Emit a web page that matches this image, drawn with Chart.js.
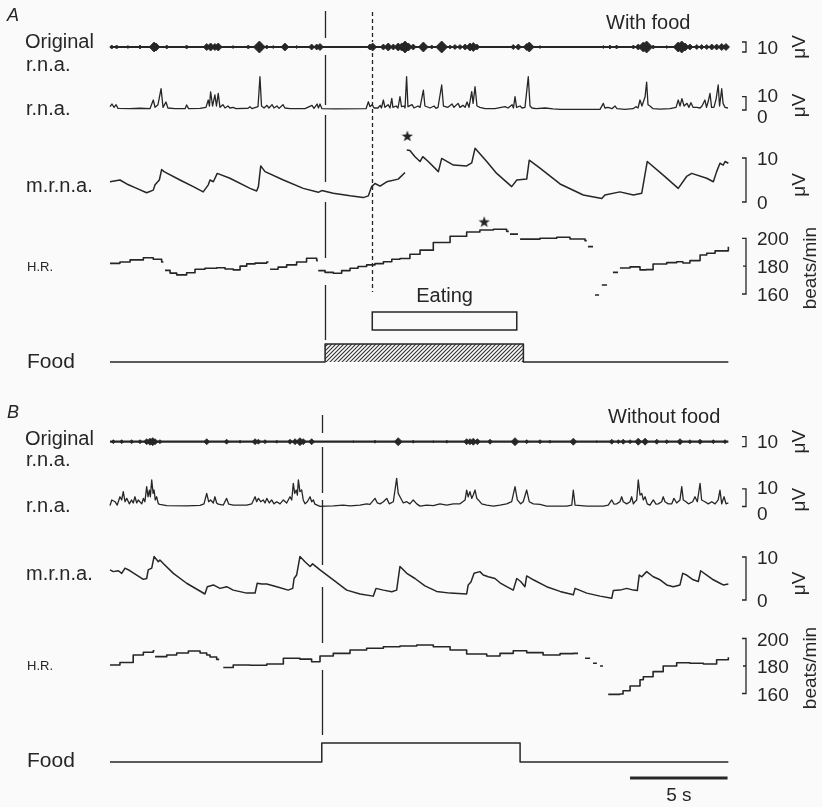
<!DOCTYPE html>
<html><head><meta charset="utf-8">
<script src="https://cdn.jsdelivr.net/npm/chart.js@4/dist/chart.umd.min.js"></script>
<style>
html,body{margin:0;padding:0;background:#fafafa;}
canvas{display:block;}
</style></head><body>
<canvas id="c" width="822" height="807"></canvas>
<script>
// ---------------- DATA (time in s) ----------------
const traceSpan = [0, 31.71];

// Panel A - with food
const origA_t = [0.09,0.34,0.92,1.54,2.26,2.36,2.91,3.93,4.96,5.16,5.38,5.55,6.31,7.09,7.66,8.04,8.37,8.97,9.57,10.34,10.60,10.77,13.33,13.47,14.02,14.27,14.53,14.78,14.96,15.13,15.30,15.55,16.07,16.50,17.01,17.44,17.69,17.95,18.21,18.46,18.63,18.81,19.66,20.68,20.94,21.37,21.50,22.05,22.91,25.30,25.64,25.98,26.84,27.09,27.35,27.52,27.86,28.55,29.14,29.32,29.49,29.74,30.09,30.34,30.60,30.86,31.11,31.37,31.59];
const origA_amp = [2,2,1.5,2,5,4,2,2,3.5,4,3.5,4,1.5,2,6,2,1.5,4,1.5,3,3,3.5,3,4,3,4,3,4,4,6,4,3,5,2,6,2,2.5,2.5,3,4,4.5,3,1,2.5,3,3.5,5,1.5,1,1.5,2,2,2,3,5,6,2,1.5,5,6,4,3,2.5,2.5,2.5,3,3,3.5,3.5];

const rnaA_t = [0.00,0.10,0.21,0.31,0.41,1.03,1.54,2.05,2.22,2.31,2.46,2.62,2.72,2.87,2.97,3.33,3.85,3.93,4.03,4.62,4.92,5.04,5.10,5.16,5.26,5.38,5.46,5.55,5.64,5.79,5.90,6.05,6.15,6.31,6.46,7.08,7.18,7.28,7.59,7.69,7.77,7.90,8.05,8.15,8.31,8.41,8.56,8.67,8.87,8.97,9.23,10.00,10.36,10.46,10.62,10.69,10.77,10.87,11.54,13.13,13.25,13.33,13.44,13.54,13.74,13.85,13.92,14.02,14.10,14.26,14.36,14.45,14.51,14.67,14.77,14.87,14.95,15.08,15.13,15.21,15.28,15.49,15.59,15.79,15.90,16.07,16.15,16.41,16.62,16.72,16.82,17.01,17.10,17.33,17.54,17.64,17.85,17.95,18.10,18.21,18.31,18.41,18.55,18.62,18.72,18.82,18.97,19.23,19.74,20.26,20.41,20.62,20.69,20.77,20.85,21.03,21.13,21.28,21.45,21.54,21.64,21.85,22.31,22.72,23.08,25.13,25.30,25.38,25.54,25.74,25.90,26.00,26.41,26.82,26.97,27.08,27.18,27.28,27.44,27.52,27.59,27.69,27.85,28.21,28.72,29.03,29.14,29.23,29.33,29.44,29.59,29.69,29.79,29.90,30.10,30.26,30.36,30.51,30.59,30.67,30.77,30.85,30.97,31.08,31.19,31.26,31.37,31.44,31.54,31.69];
const rnaA_v = [2.5,4.5,2,4,1.2,1,1.3,1,7.5,2,4,16,2,6,1.5,1,1,3.8,1,1.2,2,7.5,3,13.7,3,11.3,3,12.5,2,4,1.5,3,1.5,2,1,1.3,2.5,1,2.5,25,3,1.5,3.5,1.5,4,1.5,3,1.2,4,1.5,1,1,3.5,1.3,4.5,1.5,4.5,1,0.8,1,6.2,2.5,4,1.5,1.5,3.5,1.5,7.5,2,4,1.5,8.8,2,3,1.5,10,2.5,3,1.5,25,2.5,4,1.5,3,2,15,3,1.5,3,1.2,2,18.8,3,2,4.5,2,5,2,3.5,2,6,2,13.8,5,17.5,3,2,1,1,2.5,1.5,4,1.5,10,2,3,1.5,2,25,3,1.5,1,1.5,0.8,0.5,0.5,5,1.5,2,1,3,1,0.5,1,2.5,1.5,7.5,3,10,21,4,3,1,0.7,1,2,7.5,3,8.5,3,5,2,5.5,2,2,1.5,3,7.5,2,6,12.5,2,2,8,18.8,3,16,5,2,1.5];

const mrnaA_t = [0,0.51,0.86,1.37,1.88,2.22,2.31,2.53,2.65,2.77,3.59,4.27,4.78,5.04,5.13,5.30,5.50,6.15,7.18,7.52,7.61,7.73,7.95,8.89,9.91,10.68,10.86,11.45,12.31,12.99,13.25,13.42,13.59,13.85,14.19,14.78,15.13,15.17,15.22,15.38,15.64,15.90,16.04,16.32,16.84,17.01,17.61,18.29,18.55,18.72,19.32,19.83,20.60,20.86,21.37,21.50,22.05,23.08,24.27,25.22,25.38,26.15,26.84,27.27,27.55,28.37,29.14,29.57,29.83,30.60,30.94,31.11,31.28,31.45,31.54,31.71];
const mrnaA_v = [4.6,5.0,4.1,3.1,2.1,2.7,3.9,5.0,7.4,6.9,5.0,3.5,2.3,3.9,5.0,4.6,6.5,5.4,3.1,2.5,3.5,8.2,6.9,5.0,3.1,2.2,2.6,2.0,1.4,1.0,1.4,3.5,4.2,3.6,4.6,5.2,6.7,null,11.8,11.7,10.3,9.2,10.3,9.2,6.9,9.9,8.4,8.2,8.9,12.2,9.2,6.5,3.5,5.0,5.2,9.5,7.7,4.1,1.6,0.8,1.6,2.3,1.6,2.0,9.2,6.1,3.1,5.8,6.5,5.4,4.6,6.9,8.8,8.4,9.2,8.8];

const hrA_t = [0,0.51,1.03,1.71,2.22,2.65,2.74,2.78,2.82,3.08,3.42,3.93,4.36,4.87,5.47,5.90,6.32,6.67,7.01,7.44,8.04,8.13,8.17,8.21,8.62,9.06,9.57,10.08,10.60,10.66,10.67,10.68,11.03,11.45,11.88,12.31,12.72,13.16,13.59,14.02,14.45,14.87,15.38,15.90,16.58,17.44,18.29,18.97,19.66,20.34,20.45,20.48,20.51,20.92,20.97,21.03,22.05,22.91,23.59,24.36,24.45,24.48,24.51,24.77,24.82,24.87,25.08,25.15,25.22,25.49,25.6,25.79,26.05,26.1,26.15,26.67,27.18,27.49,27.85,28.55,29.06,29.38,29.74,30.26,30.60,31.03,31.71];
const hrA_v = [182,183,184.5,186,185,183,183,null,177,175,173.7,175.3,177.8,178.5,178.9,178,177.3,180,181.6,182.2,183,183,null,177.8,179.3,180.9,183,185.7,184,184,null,176.8,175.5,174.9,176.8,178.5,179.8,180.9,181.8,183.2,185,185.5,188.5,191.5,197,201.5,204.5,206,206.5,205,205,null,203,203,null,199.4,200,200.8,199.5,198.3,198.3,null,194,194,null,159.3,159.3,null,166.5,166.5,null,175.5,175.5,null,178.7,179.5,177.3,177.5,181.5,182.5,183.2,182.3,184,188,189.3,191,194];

const foodA_t = [0, 11.03, 21.20, 31.71];
const foodA_v = [0, 1, 0, 0];
const eatA = [13.45, 20.86];
const starA_t = [15.25, 19.19];
const starA_v = [15.0, 211.9];

// Panel B - without food
const origB_t = [0.17,0.60,1.11,1.54,1.88,2.05,2.19,2.31,2.56,4.96,5.98,6.67,7.44,7.61,7.95,8.55,9.23,9.49,9.74,9.91,10.34,12.48,13.59,14.78,15.55,16.58,17.27,18.29,18.46,18.63,18.84,19.49,20.77,21.37,22.05,22.56,23.76,24.96,25.73,26.07,26.32,26.67,27.09,27.44,28.04,28.55,29.23,29.74,30.26,30.94,31.54];
const origB_amp = [2,2,2,2,3,3.5,4,3,2,3,2.5,1.5,3,2.5,2,1.5,2.5,3,4,3,3,1,1.5,4,1.5,1,1.5,3,3,3.5,3,2.5,4,2,2,1.5,3.5,1,2.5,2,2.5,2,3.5,3.5,2.5,2,3,2,2.5,2,2];

const rnaB_t = [0,0.09,0.26,0.37,0.51,0.60,0.68,0.77,0.86,0.99,1.11,1.19,1.28,1.37,1.45,1.63,1.71,1.79,1.88,1.95,2.02,2.07,2.14,2.21,2.26,2.32,2.39,2.48,2.56,2.91,3.93,4.62,4.82,4.96,5.06,5.16,5.30,5.38,5.47,5.55,5.81,5.98,6.09,6.32,7.01,7.27,7.44,7.52,7.61,7.73,7.86,7.95,8.04,8.17,8.29,8.41,8.55,8.72,8.89,9.06,9.23,9.32,9.40,9.47,9.55,9.61,9.66,9.74,9.83,9.91,10.00,10.12,10.26,10.34,10.43,10.51,10.77,11.03,11.45,11.96,12.31,12.82,13.16,13.33,13.59,13.71,13.85,14.02,14.19,14.32,14.53,14.70,14.78,14.87,15.04,15.22,15.38,15.55,15.73,15.90,16.24,16.58,16.92,17.27,17.61,17.95,18.21,18.29,18.37,18.46,18.55,18.63,18.72,18.81,18.89,19.06,19.32,19.66,20.00,20.34,20.60,20.77,20.89,21.06,21.19,21.37,21.50,21.71,22.05,22.39,23.42,23.68,23.76,23.85,24.45,25.30,25.55,25.73,25.85,25.98,26.15,26.24,26.32,26.50,26.67,26.75,26.84,26.92,27.01,27.09,27.18,27.27,27.35,27.44,27.55,27.69,27.86,28.00,28.12,28.29,28.37,28.46,28.63,28.81,28.92,29.06,29.23,29.32,29.40,29.54,29.66,29.88,30.00,30.12,30.26,30.34,30.51,30.68,30.86,31.03,31.19,31.28,31.37,31.49,31.59,31.71];
const rnaB_v = [0.5,3.7,2.7,0.8,5.5,3.7,8.4,2.7,4.6,1.5,3.7,2,5.5,2,3.7,1.5,4.6,2.7,11.2,5.5,9.3,5.5,15,7.4,9.3,3.7,5.5,1.5,1.2,0.5,0.3,0.6,1.5,7.4,2.7,3.7,2,5.5,2,1.3,0.8,4.6,1.3,0.8,0.8,1.5,5.5,2.7,4.6,2.7,3.7,2,4.6,2,3.7,1.5,2.7,1.5,3.7,2,5.5,3.7,13.1,7.4,9.3,6.5,15,8.4,9.3,3.7,1.5,2.7,5.5,2.7,3.7,1.3,0.1,0.2,0.4,0.8,0.4,0.8,1.5,1.2,4.6,2,1.5,2.7,4.6,1.5,2.7,15.9,7.4,5.5,2,2.7,1.5,3.7,1.5,0.2,0.8,0.5,1.5,0.8,1.5,1.5,3.7,9.3,5.5,8.4,4.6,6.5,9.3,4.6,3.7,1.5,0.8,0.2,0.8,1.5,2.7,11.2,3.7,1.5,2.7,9.3,2.7,1.5,1.2,0.2,0.2,0.8,9.3,0.8,0.2,0.2,0.8,3.7,1.3,1.5,2.7,5.5,2.7,1.5,2.7,5.5,1.5,2.7,3.7,15,6.5,7.4,3.7,5.5,1.5,0.8,3.7,1.3,1.5,2.7,5.5,2.7,1.5,1.5,4.6,2,3.7,11.2,3.7,2.7,1.5,2.7,5.5,2.7,13.1,3.7,2.7,1.5,2.7,1.5,3.7,9.3,1.5,5.5,1.5,2];

const mrnaB_t = [0,0.17,0.43,0.60,0.77,1.03,1.37,1.71,1.88,1.96,2.14,2.26,2.48,2.56,2.73,3.25,3.93,4.87,4.99,5.30,5.64,5.98,6.32,7.01,7.44,7.55,7.78,8.04,8.55,9.14,9.37,9.44,9.57,9.74,10.00,10.26,10.39,10.77,11.45,12.14,12.82,13.50,13.64,14.02,14.45,14.70,14.87,15.22,15.64,16.15,16.75,17.44,18.29,18.37,18.51,18.67,18.97,19.14,19.40,19.74,20.00,20.34,20.68,20.86,21.06,21.28,21.37,21.71,22.39,23.08,23.76,23.85,24.45,25.13,25.73,25.81,26.15,26.50,26.84,27.04,27.14,27.27,27.52,27.86,28.21,28.55,28.89,29.23,29.37,29.57,29.91,30.17,30.29,30.60,30.94,31.28,31.45,31.71];
const mrnaB_v = [7.0,6.6,6.8,6.2,7.4,6.8,5.8,4.8,5.0,7.0,7.4,10.1,8.9,9.3,8.5,6.2,3.9,1.4,3.1,3.5,2.7,3.1,2.3,1.6,1.6,3.9,3.7,3.7,3.1,2.3,2.7,5.0,5.8,10.1,8.9,7.8,8.4,7.0,4.7,2.3,1.4,0.9,2.7,2.3,1.9,2.3,7.8,6.2,5.0,3.3,2.0,1.6,1.4,3.5,4.2,6.2,6.6,5.8,5.4,5.0,4.0,3.1,2.3,5.0,4.3,3.1,5.6,4.7,3.1,2.0,1.2,2.7,1.6,0.9,0.4,2.2,2.3,2.7,2.3,2.2,5.8,5.4,6.6,5.4,4.7,3.5,3.1,3.5,6.2,5.8,4.7,4.3,6.8,5.8,4.7,3.9,3.5,3.7];

const hrB_t = [0,0.51,1.19,1.71,2.22,2.28,2.30,2.31,2.91,3.42,4.02,4.62,4.96,5.13,5.47,5.60,5.70,5.81,6.32,7.18,8.04,8.89,9.74,10.34,10.77,11.45,12.31,13.16,14.02,14.87,15.73,16.58,17.44,18.29,19.32,20.00,20.68,21.37,22.21,23.08,23.76,24.00,24.2,24.36,24.62,24.70,24.77,24.97,25.05,25.13,25.28,25.4,25.55,26.15,26.31,26.67,27.18,27.35,27.85,28.37,29.06,29.74,30.43,31.11,31.71];
const hrB_v = [180.7,182.5,188,190,191.1,191.1,null,186.8,188,189.5,190.9,189.5,188,186.5,184.8,184.8,null,178.9,180.7,180.5,181.5,185.6,185,183.1,187.3,189.2,191.6,192.9,194,194.5,195.3,194,191.6,188.7,187.3,189.2,191.1,189.7,188,189,189.2,189.2,null,185.6,185.6,null,182,182,null,180,180,null,159.4,159.6,162,165.5,170,172.2,175.9,180,182.4,182,181.5,184.5,186.3];

const foodB_t = [0, 10.86, 21.03, 31.71];
const foodB_v = [0, 1, 0, 0];

const timeBar_t = [26.67, 31.67];   // 5 s calibration bar

// ---------------- LAYOUT ----------------
const W = 822, H = 807;
const INK = '#262626';
const FONT = '"Liberation Sans", Arial, Helvetica, sans-serif';
const PX_PER_S = 19.5, X0 = 110;

function band(v1, p1, v2, p2) {
  const k = (p2 - p1) / (v1 - v2);
  const max = v1 + p1 / k;
  return { min: max - H / k, max: max };
}
function yScale(b) { return { type: 'linear', display: false, min: b.min, max: b.max }; }

const pts = (ts, vs) => ts.map((t, i) => ({ x: t, y: vs[i] }));
function trace(ts, vs, axis, extra) {
  return Object.assign({ type: 'line', data: pts(ts, vs), yAxisID: axis, borderColor: INK,
    borderWidth: 1.5, pointRadius: 0, tension: 0, fill: false, spanGaps: false,
    borderJoinStyle: 'round', borderCapStyle: 'butt' }, extra || {});
}
// bursts of the raw record: a diamond bead whose half-height is the burst amplitude
function bursts(ts, amps, axis) {
  return { type: 'scatter', data: ts.map((t, i) => ({ x: t, y: 0, a: amps[i] })), yAxisID: axis,
    pointStyle: 'rectRot', backgroundColor: INK, borderColor: INK, borderWidth: 0.8,
    pointRadius: (ctx) => {
      const sc = ctx.chart.scales[axis];
      const a = ctx.raw ? ctx.raw.a : 0;
      return Math.abs(sc.getPixelForValue(0) - sc.getPixelForValue(a));
    } };
}

const ctx0 = document.getElementById('c').getContext('2d');
function hatch() {
  const c = document.createElement('canvas'); c.width = 4; c.height = 4;
  const g = c.getContext('2d');
  g.fillStyle = '#fafafa'; g.fillRect(0, 0, 4, 4);
  g.strokeStyle = '#333'; g.lineWidth = 1.1;
  g.beginPath();
  g.moveTo(0, 4); g.lineTo(4, 0);
  g.moveTo(-1, 1); g.lineTo(1, -1);
  g.moveTo(3, 5); g.lineTo(5, 3);
  g.stroke();
  return ctx0.createPattern(c, 'repeat');
}
function starImg() {
  const c = document.createElement('canvas'); c.width = 12; c.height = 12;
  const g = c.getContext('2d');
  g.fillStyle = INK; g.beginPath();
  for (let i = 0; i < 10; i++) {
    const r = i % 2 ? 2.4 : 6, a = -Math.PI / 2 + i * Math.PI / 5;
    const px = 6 + r * Math.cos(a), py = 6.5 + r * Math.sin(a);
    i ? g.lineTo(px, py) : g.moveTo(px, py);
  }
  g.closePath(); g.fill();
  return c;
}
const STAR = starImg();

const datasets = [
  trace(traceSpan, [0, 0], 'yOrigA', { borderWidth: 2.2 }),
  bursts(origA_t, origA_amp, 'yOrigA'),
  trace(rnaA_t, rnaA_v, 'yRnaA', { borderWidth: 1.3 }),
  trace(mrnaA_t, mrnaA_v, 'yMrnaA'),
  trace(hrA_t, hrA_v, 'yHrA', { stepped: 'before', borderWidth: 1.6 }),
  trace(foodA_t, foodA_v, 'yFoodA', { stepped: 'before', fill: 'origin', backgroundColor: hatch(), borderWidth: 1.5 }),
  { type: 'scatter', data: [{ x: starA_t[0], y: starA_v[0] }], yAxisID: 'yMrnaA', pointStyle: STAR, pointRadius: 6 },
  { type: 'scatter', data: [{ x: starA_t[1], y: starA_v[1] }], yAxisID: 'yHrA', pointStyle: STAR, pointRadius: 6 },
  trace(traceSpan, [0, 0], 'yOrigB', { borderWidth: 2.2 }),
  bursts(origB_t, origB_amp, 'yOrigB'),
  trace(rnaB_t, rnaB_v, 'yRnaB', { borderWidth: 1.3 }),
  trace(mrnaB_t, mrnaB_v, 'yMrnaB'),
  trace(hrB_t, hrB_v, 'yHrB', { stepped: 'before', borderWidth: 1.6 }),
  trace(foodB_t, foodB_v, 'yFoodB', { stepped: 'before', borderWidth: 1.5 })
];

const decor = {
  id: 'decor',
  afterDatasetsDraw(chart) {
    const c = chart.ctx, S = chart.scales, X = S.x;
    c.save();
    c.fillStyle = INK; c.strokeStyle = INK; c.lineCap = 'butt';
    const txt = (s, x, y, size, align, style) => {
      c.font = (style || '') + ' ' + size + 'px ' + FONT;
      c.textAlign = align || 'left'; c.textBaseline = 'alphabetic';
      c.fillText(s, x, y);
    };
    const rot = (s, x, y, size) => {
      c.save(); c.translate(x, y); c.rotate(-Math.PI / 2);
      c.font = size + 'px ' + FONT; c.textAlign = 'center'; c.textBaseline = 'middle';
      c.fillText(s, 0, 0); c.restore();
    };
    const BX = 746;
    const bracket = (sc, lo, hi, mids) => {
      const y0 = sc.getPixelForValue(lo), y1 = sc.getPixelForValue(hi);
      c.lineWidth = 1.3; c.beginPath();
      c.moveTo(BX - 4, y1); c.lineTo(BX, y1); c.lineTo(BX, y0); c.lineTo(BX - 4, y0);
      (mids || []).forEach(m => { const ym = sc.getPixelForValue(m); c.moveTo(BX - 3, ym); c.lineTo(BX, ym); });
      c.stroke();
    };
    const vsegs = (t, segs, dash) => {
      const x = Math.round(X.getPixelForValue(t)) + 0.5;
      c.lineWidth = 1.3; c.setLineDash(dash || []);
      c.beginPath();
      segs.forEach(s => { c.moveTo(x, s[0]); c.lineTo(x, s[1]); });
      c.stroke(); c.setLineDash([]);
    };

    // panel letters and titles
    txt('A', 7, 21, 18, 'left', 'italic');
    txt('B', 7, 418, 18, 'left', 'italic');
    txt('With food', 606, 29, 20);
    txt('Without food', 608, 423, 20);

    // row labels
    [['Original', 25, 48, 20], ['r.n.a.', 26, 71, 20], ['r.n.a.', 26, 115, 20], ['m.r.n.a.', 26, 192, 20], ['H.R.', 27, 271, 13], ['Food', 27, 368, 21],
     ['Original', 25, 445, 20], ['r.n.a.', 26, 466, 20], ['r.n.a.', 26, 512, 20], ['m.r.n.a.', 26, 580, 20], ['H.R.', 27, 670, 13], ['Food', 27, 767, 21]]
      .forEach(l => txt(l[0], l[1], l[2], l[3]));

    // calibration brackets
    ['A', 'B'].forEach(p => {
      const so = S['yOrig' + p], sr = S['yRna' + p], sm = S['yMrna' + p], sh = S['yHr' + p];
      bracket(so, -5, 5);
      txt('10', 757, so.getPixelForValue(0) + 6.5, 19);
      rot('\u03BCV', 800, so.getPixelForValue(0), 19);
      bracket(sr, 0, 10);
      txt('10', 757, sr.getPixelForValue(10) + 5, 19);
      txt('0', 757, sr.getPixelForValue(0) + 13, 19);
      rot('\u03BCV', 800, (sr.getPixelForValue(0) + sr.getPixelForValue(10)) / 2 + 2, 19);
      bracket(sm, 0, 10);
      txt('10', 757, sm.getPixelForValue(10) + 7, 19);
      txt('0', 757, sm.getPixelForValue(0) + 7, 19);
      rot('\u03BCV', 800, (sm.getPixelForValue(0) + sm.getPixelForValue(10)) / 2 + 5, 19);
      bracket(sh, 160, 200, [180]);
      [200, 180, 160].forEach(v => txt(String(v), 757, sh.getPixelForValue(v) + 7, 19));
      rot('beats/min', 811, sh.getPixelForValue(180) + 2, 19);
    });

    // vertical event lines
    vsegs(foodA_t[1], [[11, 38], [55, 105], [115, 182], [202, 258], [285, 340]]);
    vsegs(eatA[0], [[12, 42], [53, 292]], [4, 3]);
    vsegs(foodB_t[1], [[415, 433], [447, 493], [500, 565], [587, 643], [670, 735]]);

    // eating box
    const ex0 = X.getPixelForValue(eatA[0]), ex1 = X.getPixelForValue(eatA[1]);
    c.lineWidth = 1.5;
    c.strokeRect(ex0, 312, ex1 - ex0, 18);
    txt('Eating', (ex0 + ex1) / 2, 302, 20, 'center');

    // 5 s time bar
    const tb0 = X.getPixelForValue(timeBar_t[0]), tb1 = X.getPixelForValue(timeBar_t[1]);
    c.lineWidth = 3; c.beginPath(); c.moveTo(tb0, 778); c.lineTo(tb1, 778); c.stroke();
    txt('5 s', (tb0 + tb1) / 2, 801, 19, 'center');
    c.restore();
  }
};

new Chart(ctx0, {
  type: 'line',
  data: { datasets },
  options: {
    responsive: false, animation: false, events: [],
    layout: { padding: 0, autoPadding: false },
    plugins: { legend: { display: false }, tooltip: { enabled: false }, title: { display: false } },
    scales: {
      x: { type: 'linear', display: false, offset: false, min: -X0 / PX_PER_S, max: (W - X0) / PX_PER_S },
      yOrigA: yScale(band(5, 42, -5, 52)),
      yRnaA: yScale(band(10, 96.7, 0, 110)),
      yMrnaA: yScale(band(10, 158, 0, 202)),
      yHrA: yScale(band(200, 238.3, 160, 294)),
      yFoodA: yScale(band(1, 344, 0, 362)),
      yOrigB: yScale(band(5, 436.7, -5, 446.7)),
      yRnaB: yScale(band(10, 488.8, 0, 506.5)),
      yMrnaB: yScale(band(10, 557, 0, 600)),
      yHrB: yScale(band(200, 638.5, 160, 693.5)),
      yFoodB: yScale(band(1, 743, 0, 762))
    }
  },
  plugins: [decor]
});
</script>
</body></html>
